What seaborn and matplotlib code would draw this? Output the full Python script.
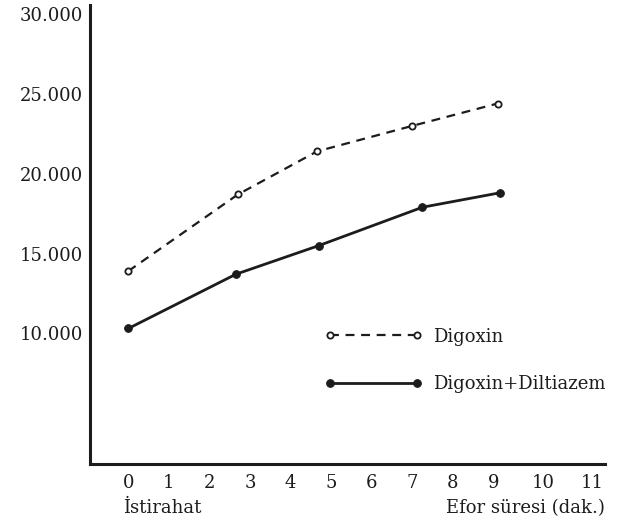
import pandas as pd
import matplotlib
matplotlib.use("Agg")
import matplotlib.pyplot as plt
import seaborn as sns

# values
dig_x = [0, 2.7, 4.65, 7.0, 9.1]
dig_y = [13900, 18700, 21400, 23000, 24400]
dil_x = [0, 2.65, 4.7, 7.25, 9.15]
dil_y = [10300, 13700, 15500, 17900, 18800]

# the scan places "10" and "11" a little further out than the others
x_tick_pos = [0, 1, 2, 3, 4, 5, 6, 7, 8, 9, 10.22, 11.43]
x_tick_labels = ["0", "1", "2", "3", "4", "5", "6", "7", "8", "9", "10", "11"]
y_ticks = [10000, 15000, 20000, 25000, 30000]
y_labels = ["10.000", "15.000", "20.000", "25.000", "30.000"]

sns.set_style("white")
plt.rcParams['font.family'] = ['DejaVu Serif', 'Liberation Serif']

df_dig = pd.DataFrame({'x': dig_x, 'y': dig_y})
df_dil = pd.DataFrame({'x': dil_x, 'y': dil_y})

ink = "#1c1c1c"
fs = 13
fig = plt.figure(figsize=(6.18, 5.25), dpi=100)
ax = fig.add_axes([0.146, 0.116, 0.833, 0.874])

sns.lineplot(data=df_dig, x='x', y='y', ax=ax, color=ink, lw=1.6,
             linestyle=(0, (4, 3)), marker='o', markersize=4.5,
             markerfacecolor='white', markeredgecolor=ink, markeredgewidth=1.3,
             label='Digoxin')
sns.lineplot(data=df_dil, x='x', y='y', ax=ax, color=ink, lw=2.0,
             marker='o', markersize=5.5, markerfacecolor=ink,
             markeredgecolor=ink, label='Digoxin+Diltiazem')

ax.set_xlim(-0.94, 11.75)
ax.set_ylim(1800, 30560)
ax.set_xticks(x_tick_pos)
ax.set_xticklabels(x_tick_labels)
ax.set_yticks(y_ticks)
ax.set_yticklabels(y_labels)
ax.tick_params(length=0, labelsize=fs, colors=ink)
ax.tick_params(axis='y', pad=5)
ax.tick_params(axis='x', pad=7)
for s in ['top', 'right']:
    ax.spines[s].set_visible(False)
for s in ['left', 'bottom']:
    ax.spines[s].set_color(ink)
    ax.spines[s].set_linewidth(2.2)
ax.set_xlabel("")
ax.set_ylabel("")

fig.text(0.199, 0.032, "İstirahat", fontsize=fs, color=ink, ha='left', va='center')
fig.text(0.979, 0.032, "Efor süresi (dak.)", fontsize=fs, color=ink, ha='right', va='center')

leg = ax.legend(loc='upper left', bbox_to_anchor=(0.525, 0.376),
                bbox_transform=fig.transFigure, frameon=False, fontsize=fs,
                handlelength=5.4, handletextpad=0.6, labelspacing=1.65,
                borderpad=0, borderaxespad=0, numpoints=2)
for t in leg.get_texts():
    t.set_color(ink)

fig.savefig("out.png", dpi=100, facecolor='white')
